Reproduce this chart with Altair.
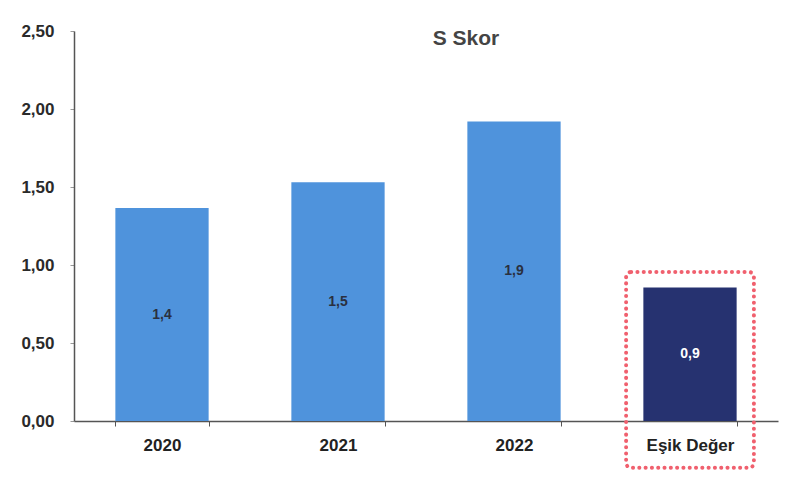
import altair as alt
import pandas as pd

# S Skor values per period and the threshold value
categories = ["2020", "2021", "2022", "Eşik Değer"]
scores = [1.365, 1.53, 1.92, 0.855]
kinds = ["yil", "yil", "yil", "esik"]

# highlight frame around the threshold bar (value range)
frame_category = ["Eşik Değer"]
frame_top = [0.955]
frame_bottom = [-0.30]

df = pd.DataFrame({"kategori": categories, "skor": scores, "tur": kinds})
df["etiket"] = [f"{v:.1f}".replace(".", ",") for v in scores]
frame_df = pd.DataFrame({"kategori": frame_category, "ust": frame_top, "alt": frame_bottom})

FONT = "Liberation Sans"

x_enc = alt.X(
    "kategori:N",
    sort=categories,
    scale=alt.Scale(paddingInner=0.47, paddingOuter=0.235),
    axis=alt.Axis(
        title=None,
        labelAngle=0,
        labelFont=FONT,
        labelFontSize=17,
        labelFontWeight="bold",
        labelColor="#222222",
        labelPadding=11,
        domainColor="#555555",
        domainWidth=1.5,
        tickColor="#555555",
        tickSize=5,
        tickBand="extent",
    ),
)

y_scale = alt.Scale(domain=[0, 2.5], nice=False)

bars = alt.Chart(df).mark_bar().encode(
    x=x_enc,
    y=alt.Y(
        "skor:Q",
        scale=y_scale,
        axis=alt.Axis(
            title=None,
            values=[0, 0.5, 1.0, 1.5, 2.0, 2.5],
            labelExpr="replace(format(datum.value, '.2f'), '.', ',')",
            labelFont=FONT,
            labelFontSize=17,
            labelFontWeight="bold",
            labelColor="#2a2a2a",
            labelPadding=16,
            domainColor="#555555",
            domainWidth=1.5,
            tickColor="#999999",
            tickSize=4,
            grid=False,
        ),
    ),
    color=alt.Color(
        "tur:N",
        scale=alt.Scale(domain=["yil", "esik"], range=["#4f93dc", "#263270"]),
        legend=None,
    ),
)

labels = alt.Chart(df).transform_calculate(
    orta="datum.skor / 2"
).mark_text(font=FONT, fontSize=14, fontWeight="bold", baseline="middle").encode(
    x=alt.X("kategori:N", sort=categories),
    y=alt.Y("orta:Q", scale=y_scale),
    text="etiket:N",
    color=alt.Color(
        "tur:N",
        scale=alt.Scale(domain=["yil", "esik"], range=["#2a3040", "#ffffff"]),
        legend=None,
    ),
)

frame = alt.Chart(frame_df).mark_rect(
    fill=None,
    fillOpacity=0,
    stroke="#f0606e",
    strokeWidth=4,
    strokeDash=[0.1, 6.2],
    strokeCap="round",
    cornerRadius=5,
    clip=False,
    width=alt.RelativeBandSize(1.37),
).encode(
    x=alt.X("kategori:N", sort=categories),
    y=alt.Y("ust:Q", scale=y_scale),
    y2="alt:Q",
)

chart = (
    alt.layer(bars, labels, frame)
    .resolve_scale(color="independent")
    .properties(
        width=704,
        height=390,
        view=alt.ViewBackground(stroke=None, strokeWidth=0),
        title=alt.TitleParams(
            "S Skor",
            font=FONT,
            fontSize=21,
            fontWeight="bold",
            color="#444444",
            anchor="middle",
            dx=40,
            dy=31,
        ),
        autosize=alt.AutoSizeParams(type="none"),
        padding={"left": 74, "top": 31, "right": 27, "bottom": 59},
    )
    .configure_view(strokeWidth=0, stroke=None)
    .configure(background="#ffffff")
)

chart.save("out.html", embed_options={"renderer": "svg", "actions": False})
